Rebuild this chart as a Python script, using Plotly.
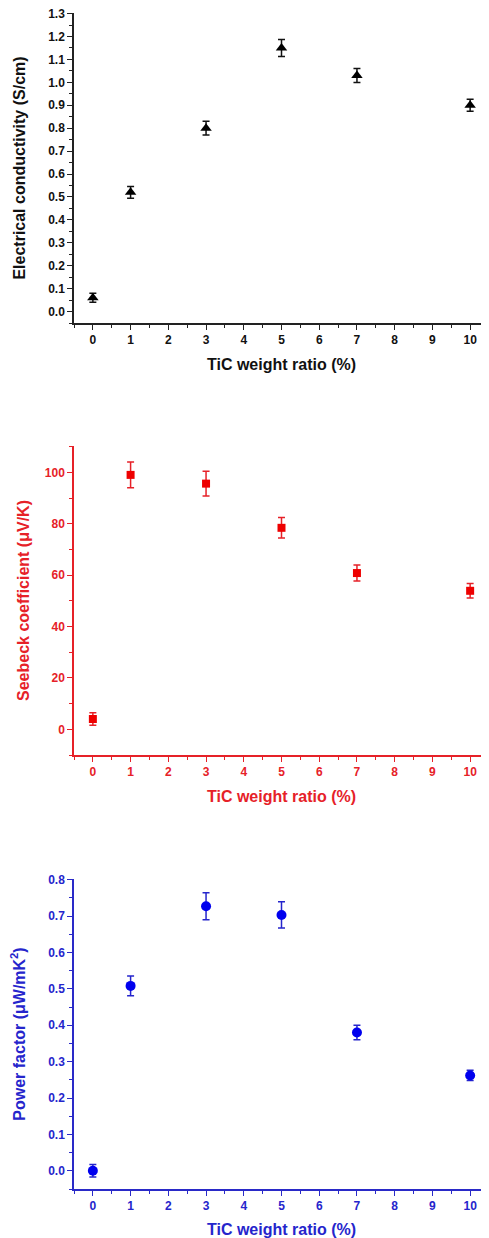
import plotly.graph_objects as go

# ---- data ----
tic_ratio = [0, 1, 3, 5, 7, 10]

conductivity = [0.06, 0.52, 0.80, 1.15, 1.03, 0.90]
conductivity_err = [0.02, 0.026, 0.03, 0.037, 0.031, 0.026]

seebeck = [4.0, 99.0, 95.6, 78.4, 60.8, 53.9]
seebeck_err = [2.4, 5.0, 4.8, 4.0, 3.1, 2.8]

power_factor = [0.0, 0.508, 0.727, 0.703, 0.380, 0.262]
power_factor_err = [0.017, 0.027, 0.037, 0.036, 0.020, 0.014]

x_ticks = list(range(0, 11))
x_title = "TiC weight ratio (%)"
y_titles = ["Electrical conductivity (S/cm)",
            "Seebeck coefficient (μV/K)",
            "Power factor (μW/mK<sup>2</sup>)"]

# ---- styling ----
OFF = 8  # default body margin of the html page
W, H = 489 - OFF, 1238 - OFF
ML, MR, MT, MB = 74 - OFF, 0, 13 - OFF, 49
plot_h = H - MT - MB
font_fam = "Liberation Sans, Arial, sans-serif"

def dom(top_px, bot_px):
    # pixel rows in the screenshot -> paper fraction
    top_px -= OFF
    bot_px -= OFF
    return [(H - MB - bot_px) / plot_h, (H - MB - top_px) / plot_h]

panels = [
    dict(y=conductivity, err=conductivity_err, color="#111111", axcolor="#222222",
         mcolor="#000000", symbol="triangle-up", msize=10,
         yrange=[-0.05, 1.3], dtick=0.1, minor=0.05, fmt=".1f",
         dom=dom(13, 323), standoff=19),
    dict(y=seebeck, err=seebeck_err, color="#e62128", axcolor="#e62128",
         mcolor="#ee0000", symbol="square", msize=8,
         yrange=[-10, 110], dtick=20, minor=10, fmt="d",
         dom=dom(446, 755), standoff=11),
    dict(y=power_factor, err=power_factor_err, color="#2525cc", axcolor="#2a2ac8",
         mcolor="#0000ee", symbol="circle", msize=10,
         yrange=[-0.05, 0.8], dtick=0.1, minor=0.05, fmt=".1f",
         dom=dom(879, 1189), standoff=23),
]

fig = go.Figure()
layout = dict(
    width=W, height=H,
    margin=dict(l=ML, r=MR, t=MT, b=MB, autoexpand=False),
    paper_bgcolor="white", plot_bgcolor="white",
    showlegend=False,
    font=dict(family=font_fam),
)

for i, p in enumerate(panels):
    n = "" if i == 0 else str(i + 1)
    xa, ya = "x" + n, "y" + n
    fig.add_trace(go.Scatter(
        x=tic_ratio, y=p["y"], mode="markers",
        xaxis=xa, yaxis=ya,
        marker=dict(symbol=p["symbol"], size=p["msize"], color=p["mcolor"]),
        error_y=dict(type="data", array=p["err"], visible=True,
                     color=p["color"], thickness=1.5, width=3.5),
    ))
    tickfont = dict(family=font_fam, size=12, color=p["color"])
    titlefont = dict(family=font_fam, size=16, color=p["color"])

    lo, hi = p["yrange"]
    yvals = []
    for k in range(int(lo / p["dtick"]) - 2, int(round(hi / p["dtick"])) + 2):
        t = round(k * p["dtick"], 6)
        if lo - 1e-9 <= t <= hi + 1e-6:
            yvals.append(t)
    if p["fmt"] == "d":
        ytxt = ["<b>%d</b>" % round(t) for t in yvals]
    else:
        ytxt = ["<b>%.1f</b>" % t for t in yvals]
    span = hi - lo

    layout["xaxis" + n] = dict(
        domain=[0, 1], anchor=ya, automargin=False,
        range=[-0.5, 10.5], tickmode="array", tickvals=x_ticks,
        ticktext=["<b>%d</b>" % v for v in x_ticks],
        ticks="outside", ticklen=5, tickwidth=1.2, tickcolor=p["axcolor"],
        minor=dict(ticks="outside", ticklen=3, tickwidth=1, dtick=0.5,
                   tick0=0.5, tickcolor=p["axcolor"], showgrid=False),
        showline=True, linecolor=p["axcolor"], linewidth=1.5,
        showgrid=False, zeroline=False, ticklabeloverflow="allow",
        tickfont=tickfont,
        title=dict(text="<b>" + x_title + "</b>", font=titlefont, standoff=13),
    )
    layout["yaxis" + n] = dict(
        domain=p["dom"], anchor=xa, automargin=False,
        range=[lo, hi + span * 0.002], tickmode="array", tickvals=yvals,
        ticktext=ytxt, ticklabeloverflow="allow",
        ticks="outside", ticklen=5, tickwidth=1.2, tickcolor=p["axcolor"],
        minor=dict(ticks="outside", ticklen=3, tickwidth=1, dtick=p["minor"],
                   tick0=0, tickcolor=p["axcolor"], showgrid=False),
        showline=True, linecolor=p["axcolor"], linewidth=1.5,
        showgrid=False, zeroline=False,
        tickfont=tickfont,
        title=dict(text="<b>" + y_titles[i] + "</b>", font=titlefont,
                   standoff=p["standoff"]),
    )

fig.update_layout(**layout)
fig.write_html("out.html")
